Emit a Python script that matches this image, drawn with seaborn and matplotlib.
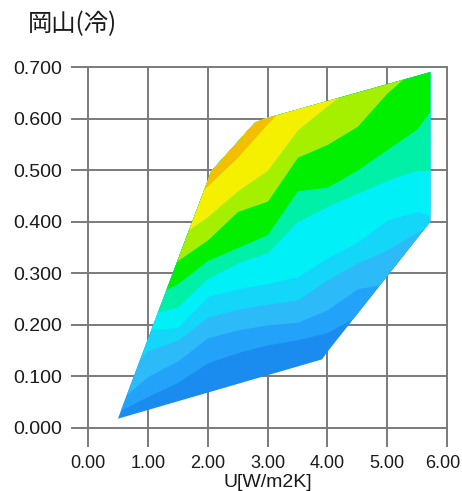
import numpy as np
import matplotlib
matplotlib.use("Agg")
import matplotlib.pyplot as plt
import seaborn as sns
from matplotlib.patches import Polygon
from matplotlib.ticker import FormatStrFormatter
from matplotlib.transforms import ScaledTranslation

# ---- data ----
# outline of the data region (U value, eta value)
hull_u = [0.50, 3.91, 4.03, 5.72, 5.72, 2.96, 2.79, 2.06]
hull_eta = [0.018, 0.133, 0.152, 0.400, 0.690, 0.600, 0.592, 0.498]

# columns at which the band boundaries were read
u_cols = [0.5, 1.0, 1.5, 2.0, 2.5, 3.0, 3.5, 4.0, 4.5, 5.0, 5.5, 5.75]
# boundary (eta) between band k-1 and band k, for k = 1..9, at each column
b1 = [0.030, 0.060, 0.087, 0.125, 0.145, 0.160, 0.170, 0.184, 0.215, 0.240, 0.300, 0.320]
b2 = [0.050, 0.100, 0.130, 0.175, 0.190, 0.200, 0.205, 0.229, 0.270, 0.280, 0.340, 0.360]
b3 = [0.080, 0.150, 0.170, 0.215, 0.230, 0.240, 0.248, 0.287, 0.320, 0.345, 0.380, 0.390]
b4 = [0.110, 0.190, 0.195, 0.255, 0.270, 0.280, 0.293, 0.330, 0.360, 0.403, 0.420, 0.410]
b5 = [0.140, 0.220, 0.235, 0.290, 0.320, 0.340, 0.400, 0.430, 0.455, 0.480, 0.500, 0.500]
b6 = [0.170, 0.250, 0.280, 0.325, 0.350, 0.375, 0.460, 0.467, 0.500, 0.540, 0.580, 0.620]
b7 = [0.200, 0.280, 0.325, 0.365, 0.420, 0.440, 0.525, 0.550, 0.585, 0.650, 0.700, 0.720]
b8 = [0.230, 0.310, 0.370, 0.410, 0.460, 0.500, 0.578, 0.625, 0.670, 0.700, 0.750, 0.770]
b9 = [0.260, 0.350, 0.420, 0.470, 0.525, 0.590, 0.650, 0.700, 0.750, 0.800, 0.850, 0.870]

band_colors = ["#1a8cf0", "#22a2f8", "#2cbaf8", "#14d6f8", "#00f0f8",
               "#00f0a8", "#00f000", "#a4f000", "#f4f000", "#f2c000"]

x_ticks = [0, 1, 2, 3, 4, 5, 6]
y_ticks = [0.0, 0.1, 0.2, 0.3, 0.4, 0.5, 0.6, 0.7]
title_text = "岡山(冷)"
x_label = "U[W/m2K]"

# ---- drawing ----
sns.set_theme(style="white")
plt.rcParams["font.family"] = ["Liberation Sans", "DejaVu Sans"]

fig = plt.figure(figsize=(4.62, 4.91), dpi=100)
ax = fig.add_axes([88 / 462, 1 - 428 / 491, (447 - 88) / 462, (428 - 67) / 491])

poly = Polygon(np.column_stack([hull_u, hull_eta]), closed=True,
               facecolor="none", edgecolor="none", zorder=2)
ax.add_patch(poly)

bounds = [b1, b2, b3, b4, b5, b6, b7, b8, b9]
for k, col in enumerate(band_colors):
    lo = np.full(len(u_cols), -1.0) if k == 0 else np.asarray(bounds[k - 1])
    f = ax.fill_between(u_cols, lo, 1.0, color=col, lw=0, zorder=2)
    f.set_clip_path(poly)

ax.set_xlim(0, 6)
ax.set_ylim(0, 0.7)
ax.set_xticks(x_ticks)
ax.set_yticks(y_ticks)
ax.xaxis.set_major_formatter(FormatStrFormatter("%.2f"))
ax.yaxis.set_major_formatter(FormatStrFormatter("%.3f"))
ax.set_axisbelow(True)
ax.grid(True, color="#7a7a7a", lw=1.4)
for ln in ax.get_xgridlines() + ax.get_ygridlines():
    ln.set_clip_on(False)
for s in ax.spines.values():
    s.set_visible(False)
ax.tick_params(axis="y", which="major", direction="out", length=12.5,
               width=1.4, color="#7a7a7a", labelsize=14, labelcolor="#1a1a1a",
               pad=6, left=True)
ax.tick_params(axis="x", which="major", direction="out", length=13.5,
               width=1.4, color="#7a7a7a", labelsize=13, labelcolor="#1a1a1a",
               pad=6, bottom=True)
ax.set_facecolor("white")

# nudge the last x tick label so it stays inside the picture
last = ax.xaxis.get_major_ticks()[-1].label1
last.set_transform(last.get_transform() + ScaledTranslation(-4 / 100, 0, fig.dpi_scale_trans))

fig.text(28 / 462, 1 - 11 / 491, title_text, ha="left", va="top", fontsize=17.5,
         color="#1a1a1a", family=["Noto Sans CJK JP", "DejaVu Sans"])
fig.text(268 / 462, 1 - 474 / 491, x_label, ha="center", va="top",
         fontsize=14, color="#1a1a1a")

fig.savefig("out.png", dpi=100, facecolor="white")
